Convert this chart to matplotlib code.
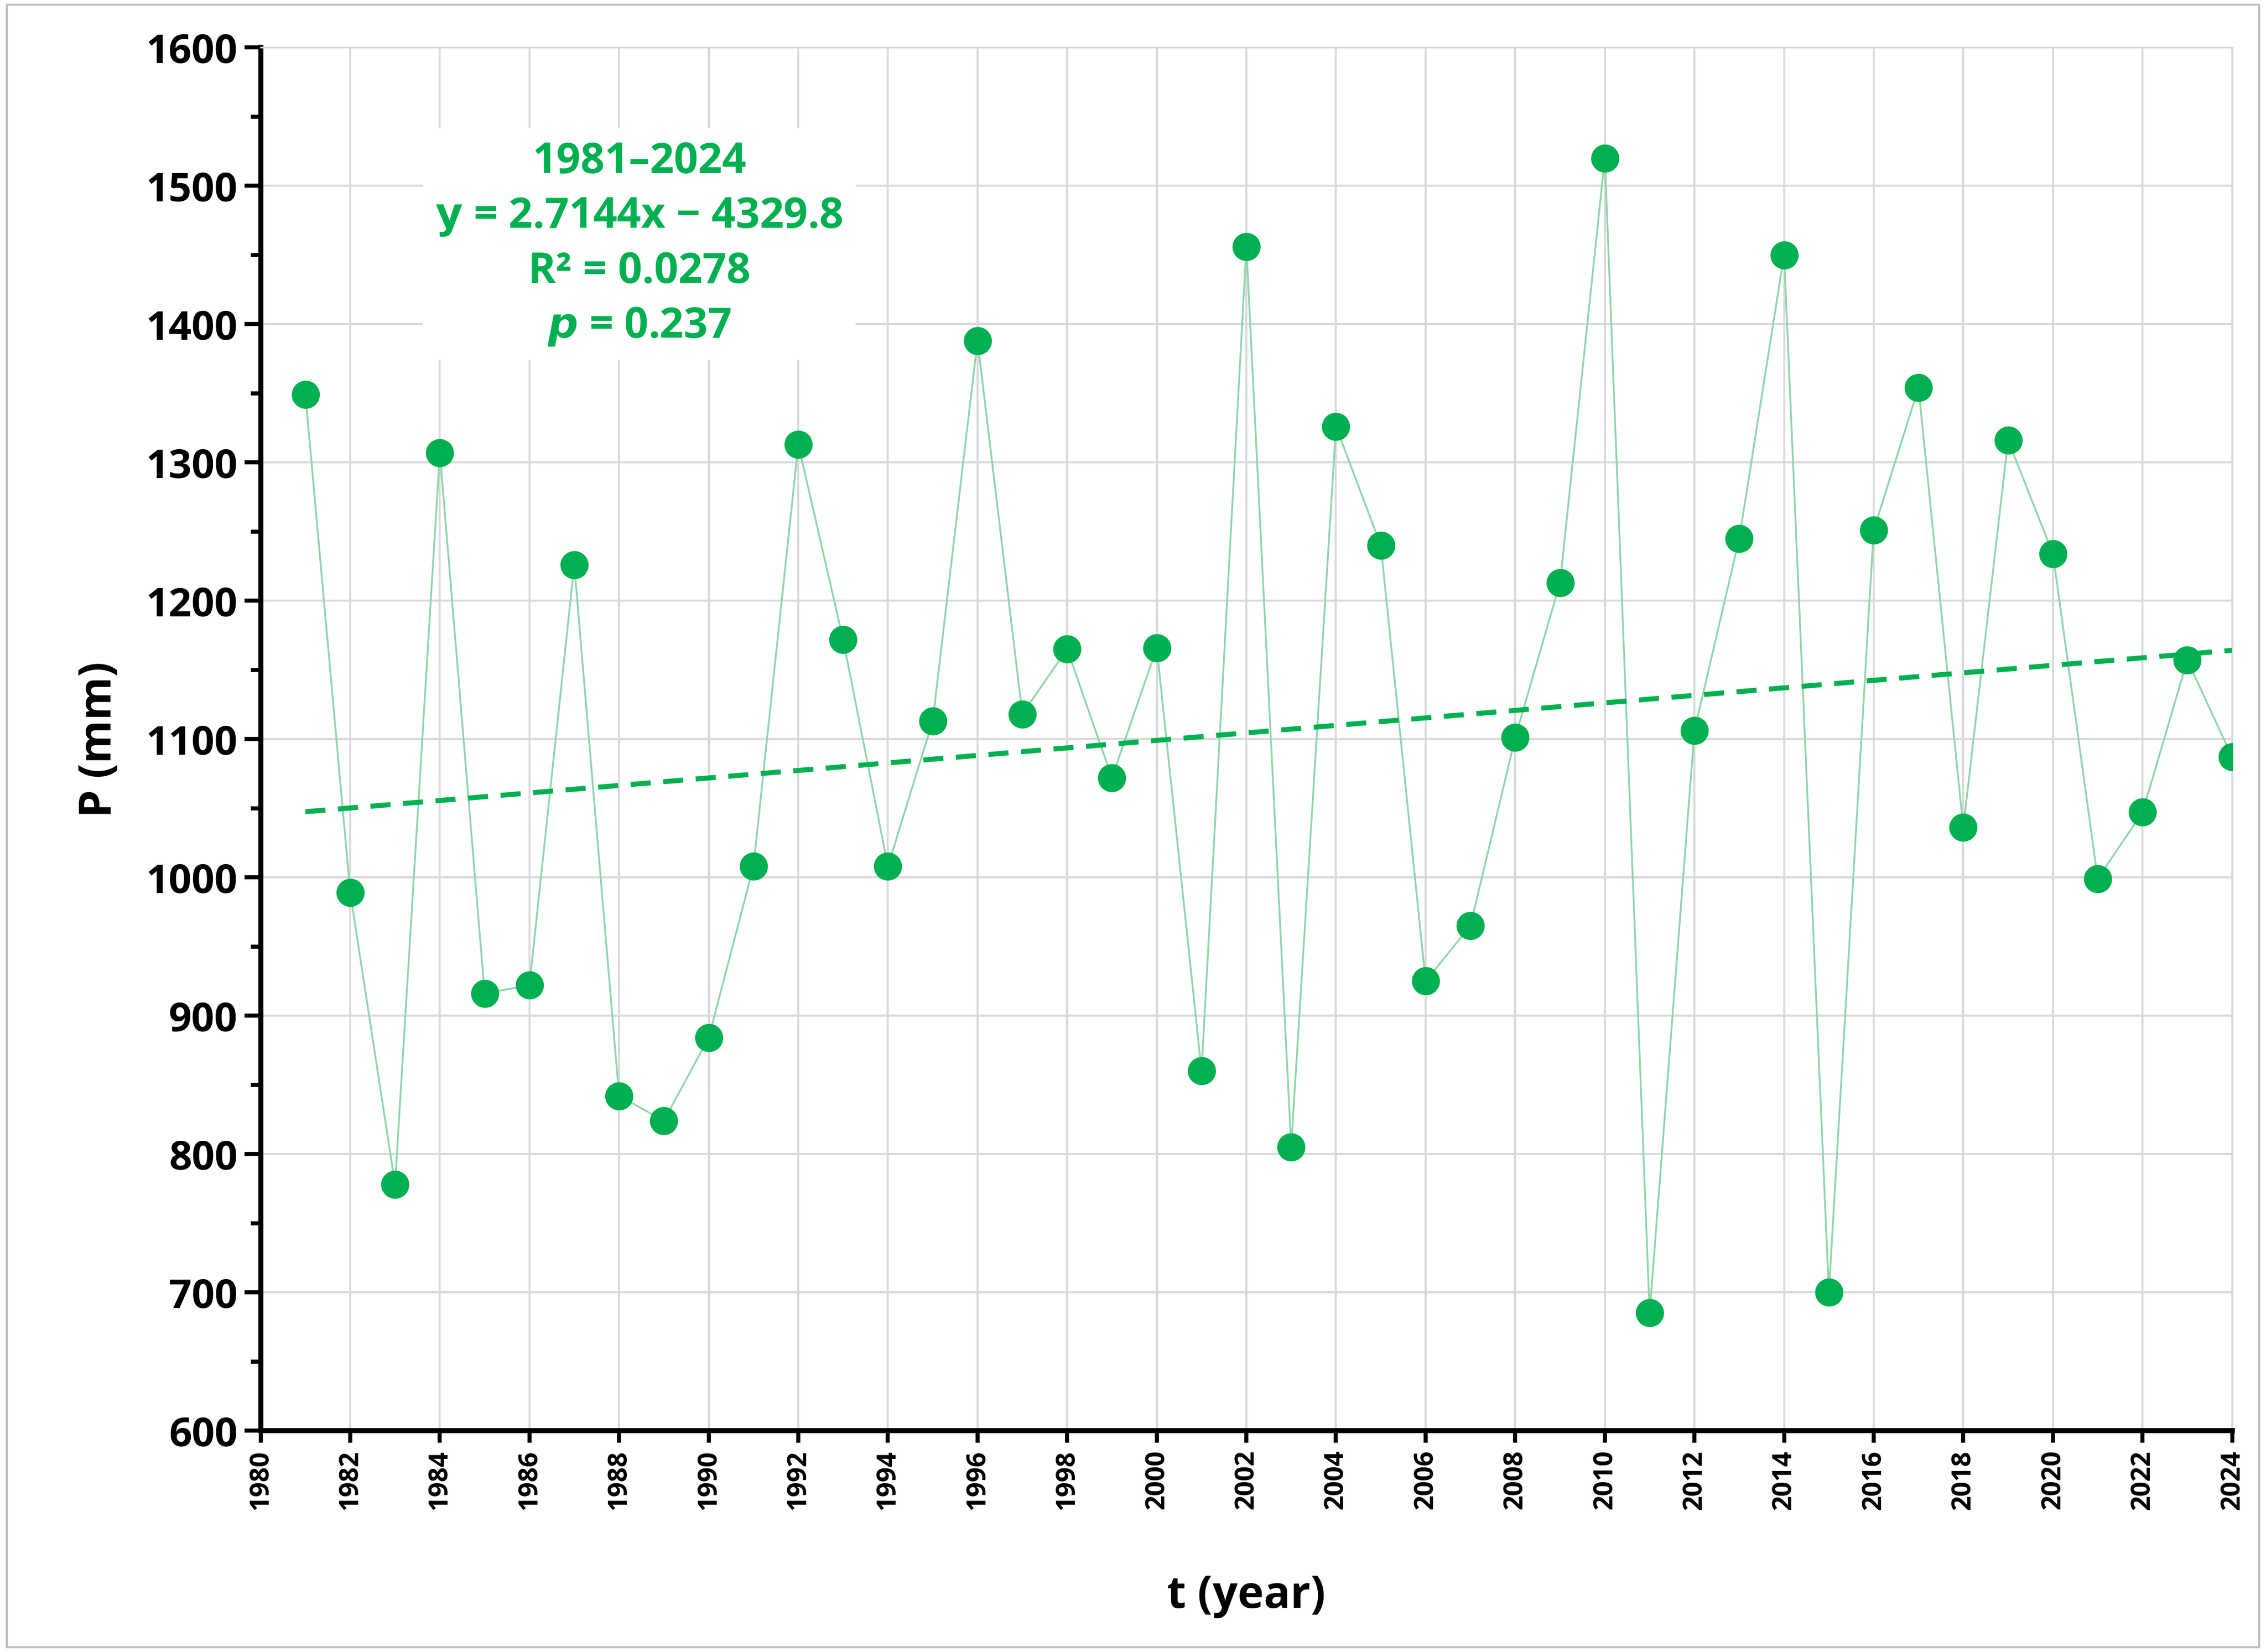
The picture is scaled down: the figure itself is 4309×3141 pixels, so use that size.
import matplotlib.pyplot as plt
from matplotlib.ticker import MultipleLocator

years = list(range(1981, 2025))
precip = [1349, 989, 778, 1307, 916, 922, 1226, 842, 824, 884,
          1008, 1313, 1172, 1008, 1113, 1388, 1118, 1165, 1072, 1166,
          860, 1456, 805, 1326, 1240, 925, 965, 1101, 1213, 1520,
          685, 1106, 1245, 1450, 700, 1251, 1354, 1036, 1316, 1234,
          999, 1047, 1157, 1087]
slope, intercept = 2.7144, -4329.8

green = "#00B050"
plt.rcParams["font.family"] = ["Open Sans", "DejaVu Sans"]

fig = plt.figure(figsize=(15.67, 11.425), dpi=275)
ax = fig.add_axes([0.115, 0.134, 0.87, 0.837])

ax.plot(years, precip, "-", color="#8fd6a8", linewidth=0.9, zorder=2)
ax.plot(years, precip, "o", color=green, markersize=13, zorder=3)
trend = [slope * y + intercept for y in years]
ax.plot([years[0], years[-1]], [trend[0], trend[-1]], "--", color=green,
        linewidth=2.5, dashes=(4, 2.5), zorder=2)

ax.set_xlim(1980, 2024)
ax.set_ylim(600, 1600)
ax.xaxis.set_major_locator(MultipleLocator(2))
ax.yaxis.set_major_locator(MultipleLocator(100))
ax.yaxis.set_minor_locator(MultipleLocator(50))
ax.grid(True, color="#d9d9d9", linewidth=1)
ax.set_axisbelow(True)

for s in ["top", "right"]:
    ax.spines[s].set_color("#d9d9d9")
for s in ["left", "bottom"]:
    ax.spines[s].set_linewidth(2.5)
ax.tick_params(axis="y", which="major", length=8, width=2, labelsize=20)
ax.tick_params(axis="y", which="minor", length=5, width=2)
ax.tick_params(axis="x", length=6, width=2, labelsize=13, rotation=90)
for lbl in ax.get_xticklabels() + ax.get_yticklabels():
    lbl.set_fontweight("bold")

ax.set_xlabel("t (year)", fontsize=22, fontweight="bold", labelpad=32)
ax.set_ylabel("P (mm)", fontsize=22, fontweight="bold", labelpad=12)

ax.text(0.192, 0.858,
        "1981–2024\n$\\mathbf{y}$ = 2.7144x − 4329.8\nR² = 0.0278\n$\\boldsymbol{p}$ = 0.237",
        transform=ax.transAxes, ha="center", va="center", fontsize=21,
        fontweight="bold", color=green, linespacing=1.4,
        bbox=dict(facecolor="white", edgecolor="none", pad=6), zorder=5)

fig.patches.append(plt.Rectangle((0.003, 0.003), 0.994, 0.994, transform=fig.transFigure,
                                 fill=False, edgecolor="#bfbfbf", linewidth=1))
fig.savefig("out.png", dpi=275)
